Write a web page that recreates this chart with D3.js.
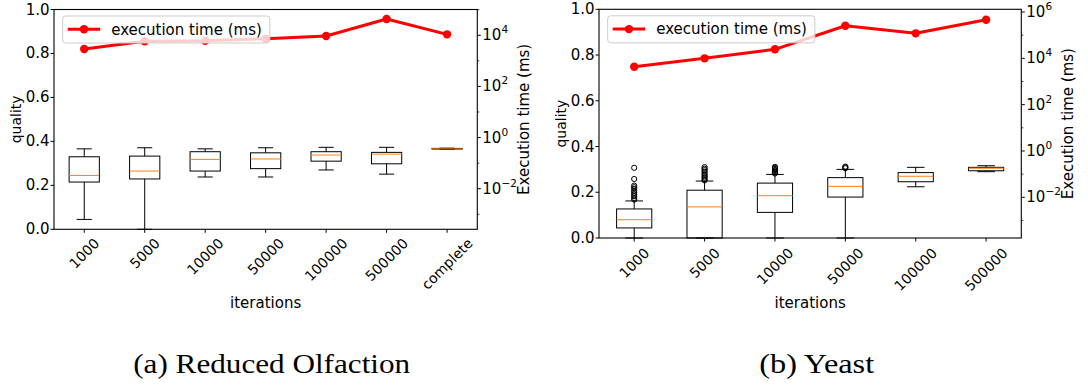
<!DOCTYPE html>
<html>
<head>
<meta charset="utf-8">
<script src="https://cdn.jsdelivr.net/npm/d3@7"></script>
<style>
  body { margin: 0; background: #fff; }
  svg { display: block; font-family: "DejaVu Sans", sans-serif; }
</style>
</head>
<body>
<svg id="chart" width="1088" height="389"></svg>
<script>
// ---- data ----
const olfCategories = ["1000", "5000", "10000", "50000", "100000", "500000", "complete"];
// [low whisker, q1, median, q3, high whisker]
const olfQuality = [
    [0.045, 0.215, 0.245, 0.330, 0.366],
    [0.000, 0.229, 0.265, 0.333, 0.371],
    [0.238, 0.265, 0.318, 0.353, 0.366],
    [0.238, 0.276, 0.320, 0.348, 0.371],
    [0.270, 0.310, 0.338, 0.353, 0.373],
    [0.251, 0.298, 0.342, 0.350, 0.373],
    [0.364, 0.365, 0.366, 0.368, 0.369]
];
const olfFliers = [[], [], [], [], [], [], []];
const olfTime = [2910, 5820, 6150, 7360, 9400, 43400, 10900];

const yeastCategories = ["1000", "5000", "10000", "50000", "100000", "500000"];
const yeastQuality = [
    [0.000, 0.044, 0.080, 0.127, 0.162],
    [0.000, 0.000, 0.136, 0.209, 0.249],
    [0.000, 0.112, 0.185, 0.240, 0.278],
    [0.000, 0.179, 0.226, 0.264, 0.300],
    [0.224, 0.246, 0.270, 0.286, 0.309],
    [0.290, 0.294, 0.305, 0.309, 0.316]
];
const yeastFliers = [
    [0.168, 0.175, 0.183, 0.190, 0.198, 0.206, 0.215, 0.222, 0.229, 0.258, 0.307],
    [0.252, 0.258, 0.264, 0.270, 0.276, 0.283, 0.290, 0.297, 0.303, 0.310],
    [0.282, 0.287, 0.292, 0.297, 0.302, 0.307, 0.311],
    [0.305, 0.309, 0.312],
    [],
    []
];
const yeastTime = [4350, 10000, 24500, 256000, 120000, 466000];

const qualityTicks = [0, 0.2, 0.4, 0.6, 0.8, 1.0];

const svg = d3.select("#chart");

function drawPanel(cfg) {
    const g = svg.append("g");
    const x = d3.scalePoint().domain(cfg.categories).range([cfg.left, cfg.right]).padding(0.5);
    const y = d3.scaleLinear().domain([0, 1]).range([cfg.bottom, cfg.top]);
    const yt = d3.scaleLog().domain(cfg.timeDomain).range([cfg.bottom, cfg.top]);
    const step = x.step();

    // execution time line (drawn first, sits under legend)
    const line = d3.line().x((d, i) => x(cfg.categories[i])).y(d => yt(d));
    g.append("path")
        .datum(cfg.time)
        .attr("d", line)
        .attr("fill", "none")
        .attr("stroke", "#ff0000")
        .attr("stroke-width", 3)
        .attr("stroke-linejoin", "round");
    g.selectAll(".tm")
        .data(cfg.time)
        .enter().append("circle")
        .attr("cx", (d, i) => x(cfg.categories[i]))
        .attr("cy", d => yt(d))
        .attr("r", 4.2)
        .attr("fill", "#ff0000");

    // box plots
    const boxes = g.selectAll(".box")
        .data(cfg.quality)
        .enter().append("g")
        .attr("transform", (d, i) => `translate(${x(cfg.categories[i])},0)`);
    const bw = step * 0.5, cw = step * 0.25;
    boxes.append("line").attr("x1", 0).attr("x2", 0)
        .attr("y1", d => y(d[0])).attr("y2", d => y(d[1]))
        .attr("stroke", "#000").attr("stroke-width", 1);
    boxes.append("line").attr("x1", 0).attr("x2", 0)
        .attr("y1", d => y(d[3])).attr("y2", d => y(d[4]))
        .attr("stroke", "#000").attr("stroke-width", 1);
    boxes.append("line").attr("x1", -cw / 2).attr("x2", cw / 2)
        .attr("y1", d => y(d[0])).attr("y2", d => y(d[0]))
        .attr("stroke", "#000").attr("stroke-width", 1);
    boxes.append("line").attr("x1", -cw / 2).attr("x2", cw / 2)
        .attr("y1", d => y(d[4])).attr("y2", d => y(d[4]))
        .attr("stroke", "#000").attr("stroke-width", 1);
    boxes.append("rect")
        .attr("x", -bw / 2).attr("width", bw)
        .attr("y", d => y(d[3])).attr("height", d => y(d[1]) - y(d[3]))
        .attr("fill", "none").attr("stroke", "#000").attr("stroke-width", 1);
    boxes.append("line").attr("x1", -bw / 2).attr("x2", bw / 2)
        .attr("y1", d => y(d[2])).attr("y2", d => y(d[2]))
        .attr("stroke", "#ff7f0e").attr("stroke-width", 1);
    boxes.each(function(d, i) {
        d3.select(this).selectAll(".fl")
            .data(cfg.fliers[i])
            .enter().append("circle")
            .attr("cx", 0).attr("cy", v => y(v)).attr("r", 2.6)
            .attr("fill", "none").attr("stroke", "#000").attr("stroke-width", 1);
    });

    // frame
    g.append("rect")
        .attr("x", cfg.left).attr("y", cfg.top)
        .attr("width", cfg.right - cfg.left).attr("height", cfg.bottom - cfg.top)
        .attr("fill", "none").attr("stroke", "#000").attr("stroke-width", 1.1);

    // left axis
    qualityTicks.forEach(t => {
        g.append("line").attr("x1", cfg.left - 3.5).attr("x2", cfg.left)
            .attr("y1", y(t)).attr("y2", y(t)).attr("stroke", "#000");
        g.append("text").attr("x", cfg.left - 4.5).attr("y", y(t))
            .attr("text-anchor", "end").attr("dominant-baseline", "central")
            .attr("font-size", 15).text(t.toFixed(1));
    });
    g.append("text")
        .attr("transform", `translate(${cfg.left - 38},${(cfg.top + cfg.bottom) / 2}) rotate(-90)`)
        .attr("text-anchor", "middle").attr("dominant-baseline", "central")
        .attr("font-size", 14).text("quality");

    // right log axis
    const lo = Math.ceil(Math.log10(cfg.timeDomain[0])), hi = Math.floor(Math.log10(cfg.timeDomain[1]));
    for (let k = lo; k <= hi; k++) {
        const yy = yt(Math.pow(10, k));
        const major = k % 2 === 0;
        g.append("line").attr("x1", cfg.right).attr("x2", cfg.right + (major ? 3.5 : 2))
            .attr("y1", yy).attr("y2", yy).attr("stroke", "#000").attr("stroke-width", major ? 1 : 0.8);
        if (major) {
            const t = g.append("text").attr("x", cfg.right + 5).attr("y", yy + 5)
                .attr("font-size", 15).text("10");
            t.append("tspan").attr("dy", -7).attr("font-size", 10.5)
                .text(k < 0 ? "\u2212" + (-k) : String(k));
        }
    }
    g.append("text")
        .attr("transform", `translate(${cfg.right + 47},${(cfg.top + cfg.bottom) / 2}) rotate(-90)`)
        .attr("text-anchor", "middle").attr("dominant-baseline", "central")
        .attr("font-size", 15).text("Execution time (ms)");

    // bottom axis with rotated labels
    cfg.categories.forEach(c => {
        const cx = x(c);
        g.append("line").attr("x1", cx).attr("x2", cx)
            .attr("y1", cfg.bottom).attr("y2", cfg.bottom + 3.5).attr("stroke", "#000");
        const t = g.append("text").attr("font-size", 14)
            .attr("text-anchor", "middle").attr("dominant-baseline", "central").text(c);
        const L = t.node().getComputedTextLength();
        const cy = cfg.bottom + cfg.labelGap + (L + 11) / (2 * Math.SQRT2);
        t.attr("transform", `translate(${cx},${cy}) rotate(-45)`);
    });
    g.append("text")
        .attr("x", (cfg.left + cfg.right) / 2).attr("y", cfg.xLabelY)
        .attr("text-anchor", "middle").attr("font-size", 15).text("iterations");

    // legend
    const lx = cfg.left + 8.7, ly = cfg.top + 6.5;
    const lg = g.append("g");
    const lbox = lg.append("rect").attr("x", lx).attr("y", ly)
        .attr("height", 27).attr("rx", 3)
        .attr("fill", "#fff").attr("fill-opacity", 0.8)
        .attr("stroke", "#cccccc").attr("stroke-width", 1);
    lg.append("line").attr("x1", lx + 5).attr("x2", lx + 37.5)
        .attr("y1", ly + 13.3).attr("y2", ly + 13.3)
        .attr("stroke", "#ff0000").attr("stroke-width", 3);
    lg.append("circle").attr("cx", lx + 21.3).attr("cy", ly + 13.3).attr("r", 4.2).attr("fill", "#ff0000");
    const lt = lg.append("text").attr("x", lx + 48.5).attr("y", ly + 18.5)
        .attr("font-size", 15).text("execution time (ms)");
    lbox.attr("width", 48.5 + lt.node().getComputedTextLength() + 8);

    // caption
    svg.append("text")
        .attr("x", cfg.captionX).attr("y", 373)
        .attr("text-anchor", "middle")
        .attr("font-family", "'Liberation Serif', 'DejaVu Serif', serif")
        .attr("font-size", 28)
        .attr("textLength", cfg.captionW).attr("lengthAdjust", "spacingAndGlyphs")
        .text(cfg.caption);
}

drawPanel({
    categories: olfCategories, quality: olfQuality, fliers: olfFliers, time: olfTime,
    left: 54, right: 477.3, top: 9.5, bottom: 229.3,
    timeDomain: [Math.pow(10, -3.588), Math.pow(10, 5.009)],
    labelGap: 7.5, xLabelY: 308,
    caption: "(a) Reduced Olfaction", captionX: 271.7, captionW: 277
});

drawPanel({
    categories: yeastCategories, quality: yeastQuality, fliers: yeastFliers, time: yeastTime,
    left: 599, right: 1021.3, top: 9.3, bottom: 238,
    timeDomain: [Math.pow(10, -3.757), Math.pow(10, 6.117)],
    labelGap: 8.5, xLabelY: 308,
    caption: "(b) Yeast", captionX: 816.7, captionW: 115
});
</script>
</body>
</html>
